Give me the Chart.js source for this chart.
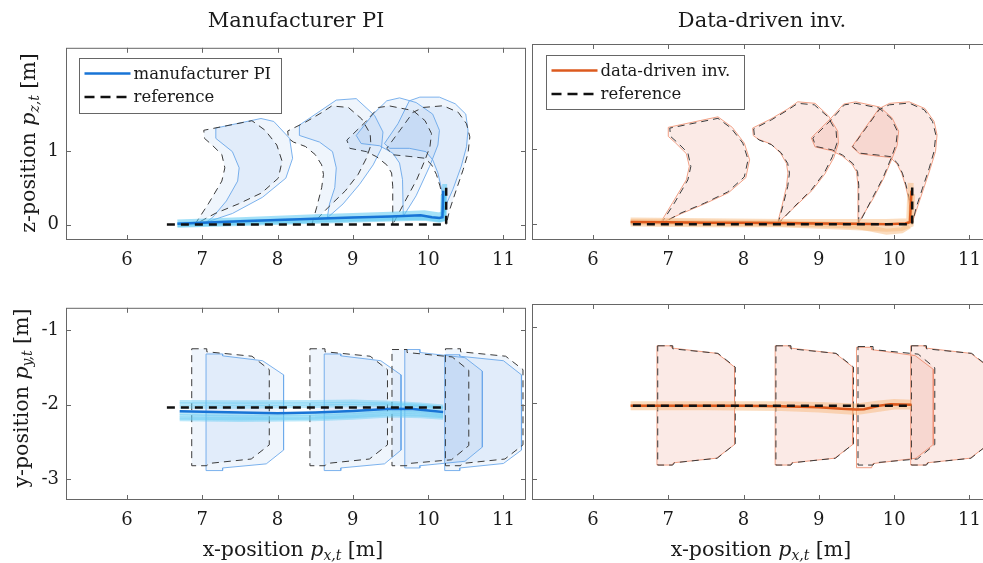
<!DOCTYPE html>
<html>
<head>
<meta charset="utf-8">
<script src="https://cdn.jsdelivr.net/npm/chart.js@4.4.0/dist/chart.umd.min.js"></script>
<style>
  html, body { margin: 0; padding: 0; background: #fff; overflow: hidden; }
  body { width: 983px; height: 563px; position: relative; font-family: 'DejaVu Serif', serif; color: #1a1a1a; }
  canvas { position: absolute; }
  .lbl { position: absolute; transform: translate(-50%, -50%); white-space: nowrap; font-size: 20.5px; }
  .ttl { font-size: 21px; }
  .ylbl { transform: translate(-50%, -50%) rotate(-90deg); }
  sub { font-size: 0.68em; vertical-align: -0.3em; line-height: 0; }
</style>
</head>
<body>
<canvas id="pidXZ" width="530" height="250" style="left:0;top:30px"></canvas>
<canvas id="ddiXZ" width="470" height="250" style="left:528px;top:30px"></canvas>
<canvas id="pidXY" width="530" height="250" style="left:0;top:290px"></canvas>
<canvas id="ddiXY" width="470" height="250" style="left:528px;top:290px"></canvas>

<div class="lbl ttl" style="left:296px;top:20px">Manufacturer PI</div>
<div class="lbl ttl" style="left:762px;top:20px">Data-driven inv.</div>
<div class="lbl" style="left:293px;top:549px">x-position <i>p</i><sub><i>x,t</i></sub> [m]</div>
<div class="lbl" style="left:761px;top:549px">x-position <i>p</i><sub><i>x,t</i></sub> [m]</div>
<div class="lbl ylbl" style="left:28px;top:143px">z-position <i>p</i><sub><i>z,t</i></sub> [m]</div>
<div class="lbl ylbl" style="left:21px;top:398px">y-position <i>p</i><sub><i>y,t</i></sub> [m]</div>

<script>
// axis ticks
const xTicks = [6, 7, 8, 9, 10, 11];
const zTicks = [0, 1];
const yTicks = [-3, -2, -1];

// reference trajectory
const refPathXZ = [[6.53, 0], [10.24, 0], [10.24, 0.5]];
const refPathXY = [[6.53, -2.04], [10.24, -2.04]];

// manufacturer PI: mean flight and single runs
const pidMeanXZ = [[6.67, 0.01], [7.0, 0.025], [7.5, 0.045], [8.0, 0.06], [8.5, 0.08], [9.0, 0.095], [9.5, 0.11], [9.9, 0.125], [10.05, 0.1], [10.15, 0.09], [10.19, 0.1], [10.2, 0.46]];
const pidRunsXZ = [
  [[6.67, 0.035], [7.5, 0.065], [8.5, 0.105], [9.5, 0.14], [9.95, 0.16], [10.15, 0.13], [10.21, 0.15], [10.22, 0.55]],
  [[6.67, 0.0], [7.5, 0.03], [8.5, 0.06], [9.5, 0.09], [9.95, 0.1], [10.15, 0.07], [10.2, 0.08], [10.21, 0.45]],
  [[6.67, -0.01], [7.5, 0.015], [8.5, 0.045], [9.5, 0.075], [9.95, 0.085], [10.15, 0.06], [10.19, 0.07], [10.2, 0.4]]
];
const pidMeanXY = [[6.7, -2.09], [7.5, -2.105], [8.0, -2.115], [8.5, -2.105], [9.0, -2.085], [9.5, -2.055], [9.8, -2.06], [10.0, -2.08], [10.2, -2.1]];
const pidRunsXY = [
  [[6.7, -1.96], [7.5, -1.965], [8.5, -1.96], [9.0, -1.955], [9.5, -1.97], [9.9, -1.995], [10.2, -2.02]],
  [[6.7, -1.99], [7.5, -1.995], [8.5, -1.99], [9.0, -1.985], [9.5, -1.99], [9.9, -2.01], [10.2, -2.04]],
  [[6.7, -2.03], [7.5, -2.03], [8.5, -2.02], [9.0, -2.01], [9.5, -2.01], [9.9, -2.03], [10.2, -2.06]],
  [[6.7, -2.12], [7.5, -2.14], [8.5, -2.13], [9.0, -2.11], [9.5, -2.08], [9.9, -2.09], [10.2, -2.12]],
  [[6.7, -2.15], [7.5, -2.165], [8.5, -2.155], [9.0, -2.135], [9.5, -2.1], [9.9, -2.11], [10.2, -2.14]],
  [[6.7, -2.18], [7.5, -2.19], [8.5, -2.18], [9.0, -2.16], [9.5, -2.13], [9.9, -2.14], [10.2, -2.16]],
  [[6.7, -2.2], [7.5, -2.21], [8.5, -2.2], [9.0, -2.18], [9.5, -2.15], [9.9, -2.16], [10.2, -2.18]]
];

// data-driven inversion: mean flight and single runs
const ddiMeanXZ = [[6.5, 0.03], [7.0, 0.025], [7.5, 0.02], [8.0, 0.02], [8.5, 0.015], [9.0, 0.01], [9.5, 0.005], [9.9, 0.0], [10.15, 0.01], [10.21, 0.03], [10.23, 0.45]];
const ddiRunsXZ = [
  [[6.5, 0.05], [7.5, 0.04], [8.5, 0.03], [9.0, 0.03], [9.5, 0.03], [9.9, 0.03], [10.2, 0.04], [10.22, 0.55]],
  [[6.5, 0.01], [7.5, 0.0], [8.5, 0.0], [9.0, -0.02], [9.5, -0.04], [9.9, -0.06], [10.1, -0.05], [10.22, 0.0], [10.24, 0.4]],
  [[6.5, 0.03], [7.5, 0.02], [8.5, 0.01], [9.0, 0.0], [9.5, -0.02], [9.9, -0.1], [10.1, -0.08], [10.2, -0.02]]
];
const ddiMeanXY = [[6.5, -2.04], [7.0, -2.04], [7.5, -2.04], [8.0, -2.04], [8.5, -2.045], [9.0, -2.06], [9.3, -2.08], [9.5, -2.09], [9.6, -2.085], [9.8, -2.04], [9.95, -2.02], [10.23, -2.025]];
const ddiRunsXY = [
  [[6.5, -2.02], [7.5, -2.02], [8.5, -2.02], [9.0, -2.03], [9.5, -2.05], [9.8, -2.01], [10.0, -1.99], [10.23, -2.0]],
  [[6.5, -2.06], [7.5, -2.06], [8.5, -2.07], [9.0, -2.09], [9.5, -2.12], [9.8, -2.08], [10.0, -2.05], [10.23, -2.05]]
];

// gate outlines, side view (x, z)
const refGatesXZ = [
  [[6.9, 0], [7.08, 0.28], [7.26, 0.59], [7.3, 0.77], [7.26, 0.95], [7.13, 1.08], [7.03, 1.17], [7.02, 1.28], [7.66, 1.41], [7.835, 1.28], [7.99, 1.08], [8.06, 0.86], [8.01, 0.63], [7.79, 0.43], [7.48, 0.28], [7.17, 0.15]],
  [[8.455, 0], [8.52, 0.235], [8.586, 0.5], [8.61, 0.68], [8.586, 0.81], [8.5, 0.95], [8.37, 1.06], [8.21, 1.12], [8.145, 1.17], [8.135, 1.27], [8.37, 1.39], [8.586, 1.52], [8.72, 1.61], [8.94, 1.59], [9.117, 1.435], [9.23, 1.235], [9.24, 1.08], [9.18, 0.9], [9.07, 0.68], [8.9, 0.457], [8.675, 0.235]],
  [[9.53, 0], [9.53, 0.52], [9.515, 0.7], [9.45, 0.81], [9.316, 0.92], [9.18, 0.99], [8.96, 1.035], [8.92, 1.147], [9.165, 1.39], [9.34, 1.59], [9.49, 1.61], [9.8, 1.547], [9.96, 1.41], [10.045, 1.235], [10.024, 1.057], [9.96, 0.88], [9.85, 0.613], [9.71, 0.347]],
  [[10.24, 0], [10.2, 0.347], [10.157, 0.524], [10.11, 0.68], [10.045, 0.813], [9.957, 0.9], [9.76, 0.924], [9.537, 0.947], [9.45, 1.035], [9.626, 1.28], [9.8, 1.524], [9.935, 1.59], [10.2, 1.613], [10.4, 1.524], [10.51, 1.368], [10.554, 1.19], [10.53, 0.968], [10.466, 0.747], [10.377, 0.48], [10.29, 0.213]]
];
const pidGatesXZ = [
  [[7.05, 0.03], [7.14, 0.1], [7.32, 0.32], [7.47, 0.59], [7.49, 0.77], [7.4, 0.99], [7.18, 1.17], [7.18, 1.31], [7.78, 1.44], [7.95, 1.4], [8.16, 1.17], [8.2, 0.9], [8.11, 0.63], [7.8, 0.37], [7.4, 0.15]],
  [[8.66, 0.09], [8.69, 0.28], [8.76, 0.5], [8.78, 0.77], [8.73, 0.99], [8.557, 1.12], [8.29, 1.21], [8.29, 1.35], [8.78, 1.69], [9.045, 1.71], [9.29, 1.48], [9.4, 1.257], [9.38, 1.035], [9.27, 0.81], [9.09, 0.547], [8.87, 0.28]],
  [[9.67, 0.11], [9.66, 0.61], [9.62, 0.835], [9.53, 0.97], [9.355, 1.07], [9.11, 1.1], [9.045, 1.21], [9.27, 1.5], [9.45, 1.68], [9.62, 1.72], [9.84, 1.657], [10.06, 1.5], [10.15, 1.28], [10.13, 1.08], [10.02, 0.79], [9.84, 0.39]],
  [[10.23, 0.25], [10.17, 0.52], [10.13, 0.7], [10.06, 0.88], [9.97, 0.99], [9.75, 1.035], [9.49, 1.035], [9.42, 1.1], [9.6, 1.37], [9.75, 1.68], [9.89, 1.73], [10.15, 1.73], [10.36, 1.64], [10.5, 1.5], [10.53, 1.28], [10.51, 1.057], [10.44, 0.79], [10.33, 0.48]]
];
const ddiGatesXZ = [
  [[6.89, 0.01], [7.06, 0.29], [7.24, 0.59], [7.28, 0.77], [7.24, 0.94], [7.1, 1.08], [7.0, 1.17], [7.0, 1.29], [7.66, 1.43], [7.85, 1.29], [8.01, 1.08], [8.08, 0.86], [8.03, 0.62], [7.8, 0.42], [7.48, 0.27], [7.17, 0.14]],
  [[8.45, 0.01], [8.51, 0.24], [8.57, 0.5], [8.59, 0.68], [8.57, 0.81], [8.49, 0.95], [8.36, 1.07], [8.2, 1.13], [8.13, 1.18], [8.12, 1.28], [8.36, 1.4], [8.58, 1.53], [8.72, 1.63], [8.95, 1.61], [9.13, 1.44], [9.25, 1.24], [9.26, 1.08], [9.2, 0.89], [9.08, 0.67], [8.91, 0.45], [8.68, 0.23]],
  [[9.52, 0.01], [9.52, 0.52], [9.5, 0.7], [9.44, 0.8], [9.31, 0.91], [9.17, 0.98], [8.95, 1.03], [8.9, 1.15], [9.15, 1.4], [9.33, 1.6], [9.49, 1.63], [9.81, 1.56], [9.97, 1.42], [10.06, 1.24], [10.04, 1.05], [9.97, 0.87], [9.86, 0.61], [9.72, 0.34]],
  [[10.24, 0.02], [10.19, 0.35], [10.15, 0.52], [10.1, 0.68], [10.04, 0.8], [9.95, 0.89], [9.76, 0.91], [9.54, 0.94], [9.44, 1.03], [9.62, 1.29], [9.8, 1.54], [9.94, 1.61], [10.2, 1.63], [10.41, 1.54], [10.53, 1.37], [10.57, 1.19], [10.55, 0.97], [10.48, 0.74], [10.39, 0.47], [10.3, 0.2]]
];

// gate outlines, top view (x, y)
const refGatesXY = [
  [[6.86, -1.25], [7.06, -1.25], [7.06, -1.29], [7.66, -1.35], [7.89, -1.53], [7.89, -2.54], [7.65, -2.73], [7.08, -2.79], [7.06, -2.82], [6.86, -2.82]],
  [[8.43, -1.25], [8.63, -1.25], [8.63, -1.29], [9.23, -1.35], [9.46, -1.53], [9.46, -2.54], [9.22, -2.73], [8.65, -2.79], [8.63, -2.82], [8.43, -2.82]],
  [[9.52, -1.26], [9.72, -1.26], [9.72, -1.3], [10.32, -1.36], [10.54, -1.54], [10.54, -2.55], [10.31, -2.74], [9.74, -2.79], [9.72, -2.82], [9.52, -2.82]],
  [[10.23, -1.25], [10.43, -1.25], [10.43, -1.29], [11.03, -1.35], [11.26, -1.53], [11.26, -2.54], [11.02, -2.73], [10.45, -2.79], [10.43, -2.82], [10.23, -2.82]]
];
const pidGatesXY = [
  [[7.05, -1.32], [7.27, -1.32], [7.27, -1.345], [7.8, -1.41], [8.08, -1.6], [8.08, -2.61], [7.85, -2.795], [7.27, -2.85], [7.27, -2.885], [7.05, -2.885]],
  [[8.62, -1.32], [8.84, -1.32], [8.84, -1.345], [9.37, -1.41], [9.64, -1.6], [9.64, -2.61], [9.42, -2.795], [8.84, -2.85], [8.84, -2.885], [8.62, -2.885]],
  [[9.69, -1.26], [9.89, -1.26], [9.89, -1.3], [10.49, -1.37], [10.72, -1.55], [10.72, -2.57], [10.49, -2.76], [9.89, -2.82], [9.89, -2.85], [9.69, -2.85]],
  [[10.22, -1.33], [10.42, -1.33], [10.42, -1.35], [11.0, -1.41], [11.24, -1.6], [11.24, -2.61], [11.0, -2.79], [10.42, -2.85], [10.42, -2.885], [10.22, -2.885]]
];
const ddiGatesXY = [
  [[6.85, -1.25], [7.05, -1.25], [7.05, -1.28], [7.65, -1.35], [7.88, -1.53], [7.88, -2.55], [7.64, -2.73], [7.07, -2.79], [7.05, -2.82], [6.85, -2.82]],
  [[8.42, -1.25], [8.62, -1.25], [8.62, -1.28], [9.22, -1.35], [9.45, -1.53], [9.45, -2.55], [9.21, -2.73], [8.64, -2.79], [8.62, -2.82], [8.42, -2.82]],
  [[9.5, -1.27], [9.7, -1.27], [9.7, -1.3], [10.28, -1.38], [10.52, -1.56], [10.52, -2.55], [10.29, -2.73], [9.72, -2.8], [9.7, -2.855], [9.5, -2.855]],
  [[10.22, -1.25], [10.42, -1.25], [10.42, -1.28], [11.02, -1.35], [11.25, -1.53], [11.25, -2.55], [11.01, -2.73], [10.44, -2.79], [10.42, -2.82], [10.22, -2.82]]
];

const pidStyle = { line: '#1874d6', band: 'rgba(90,200,242,0.55)', bandXY: 'rgba(100,205,245,0.45)', fill: 'rgba(80,145,225,0.09)', edge: 'rgba(110,170,235,0.9)' };
const ddiStyle = { line: '#dc5a1e', band: 'rgba(248,185,125,0.5)', bandXY: 'rgba(248,185,125,0.5)', fill: 'rgba(230,110,75,0.075)', edge: 'rgba(240,150,120,0.9)' };

const toPts = arr => arr.map(([x, y]) => ({ x, y }));
const closed = arr => toPts([...arr, arr[0]]);

function panelSets(mean, runs, ref, gates, refGates, st, runColor, runWidth) {
  return [
    { data: toPts(ref), borderColor: '#111', borderWidth: 2.5, borderDash: [8, 6], fill: false },
    { data: toPts(mean), borderColor: st.line, borderWidth: 2.5, fill: false },
    ...runs.map(r => ({ data: toPts(r), borderColor: runColor, borderWidth: runWidth, fill: false })),
    ...refGates.map(g => ({ data: closed(g), borderColor: '#3a3a3a', borderWidth: 1, borderDash: [7, 5], backgroundColor: st.fill, fill: 'shape' })),
    ...gates.map(g => ({ data: closed(g), borderColor: st.edge, borderWidth: 1, backgroundColor: st.fill, fill: 'shape' }))
  ];
}

// axes box with inward ticks on all four sides
const frame = {
  id: 'frame',
  afterDatasetsDraw(chart) {
    const { ctx, chartArea: a, scales } = chart;
    ctx.save();
    ctx.strokeStyle = '#666';
    ctx.lineWidth = 1;
    ctx.strokeRect(a.left + 0.5, a.top + 0.5, a.right - a.left - 1, a.bottom - a.top - 1);
    ctx.beginPath();
    scales.x.ticks.forEach(t => {
      const p = Math.round(scales.x.getPixelForValue(t.value)) + 0.5;
      ctx.moveTo(p, a.bottom); ctx.lineTo(p, a.bottom - 5);
      ctx.moveTo(p, a.top); ctx.lineTo(p, a.top + 5);
    });
    scales.y.ticks.forEach(t => {
      const p = Math.round(scales.y.getPixelForValue(t.value)) + 0.5;
      ctx.moveTo(a.left, p); ctx.lineTo(a.left + 5, p);
      ctx.moveTo(a.right, p); ctx.lineTo(a.right - 5, p);
    });
    ctx.stroke();
    ctx.restore();
  }
};

function boxLegend(items, box) {
  return {
    id: 'boxLegend',
    afterDraw(chart) {
      const { ctx, chartArea } = chart;
      const x0 = Math.round(chartArea.left + box.dx) + 0.5, y0 = Math.round(chartArea.top + box.dy) + 0.5;
      ctx.save();
      ctx.fillStyle = '#fff';
      ctx.fillRect(x0, y0, box.w, box.h);
      ctx.strokeStyle = '#666';
      ctx.lineWidth = 1;
      ctx.strokeRect(x0, y0, box.w, box.h);
      items.forEach((it, i) => {
        const y = y0 + 15 + i * 23.5;
        ctx.beginPath();
        ctx.setLineDash(it.dash || []);
        ctx.strokeStyle = it.color;
        ctx.lineWidth = 2.5;
        ctx.moveTo(x0 + 5, y);
        ctx.lineTo(x0 + 51, y);
        ctx.stroke();
        ctx.setLineDash([]);
        ctx.fillStyle = '#1a1a1a';
        ctx.font = '16.5px "DejaVu Serif"';
        ctx.textBaseline = 'middle';
        ctx.fillText(it.text, x0 + 54, y + 1);
      });
      ctx.restore();
    }
  };
}

const tickFont = { family: 'DejaVu Serif', size: 18 };

function makeChart(id, datasets, yRange, yVals, left, xPad, legendItems) {
  const plugins = [frame];
  if (legendItems) plugins.push(boxLegend(legendItems, left ? { dx: 13, dy: 10, w: 202, h: 55 } : { dx: 13.5, dy: 10.5, w: 198, h: 54 }));
  return new Chart(document.getElementById(id), {
    type: 'line',
    data: { datasets },
    options: {
      responsive: false,
      animation: false,
      events: [],
      layout: { padding: { top: 14, right: left ? 4 : 6, left: 0, bottom: 0 } },
      plugins: { legend: { display: false }, tooltip: { enabled: false } },
      elements: { point: { radius: 0 }, line: { tension: 0 } },
      scales: {
        x: {
          type: 'linear', min: 5.19, max: 11.3,
          grid: { display: false, drawTicks: false }, border: { display: false },
          afterBuildTicks: s => { s.ticks = xTicks.map(v => ({ value: v })); },
          afterFit: s => { s.height = 40; },
          ticks: { font: tickFont, color: '#1a1a1a', padding: xPad, maxRotation: 0, autoSkip: false }
        },
        y: {
          type: 'linear', min: yRange[0], max: yRange[1],
          grid: { display: false, drawTicks: false }, border: { display: false },
          afterBuildTicks: s => { s.ticks = yVals.map(v => ({ value: v })); },
          afterFit: s => { s.width = left ? 66 : 4; },
          ticks: { display: left, font: tickFont, color: '#1a1a1a', padding: 7, autoSkip: false }
        }
      }
    },
    plugins
  });
}

const zRange = [-0.21, 2.4];
const yRange = [-3.28, -0.7];

makeChart('pidXZ', panelSets(pidMeanXZ, pidRunsXZ, refPathXZ, pidGatesXZ, refGatesXZ, pidStyle, pidStyle.band, 5), zRange, zTicks, true, 10,
  [{ text: 'manufacturer PI', color: pidStyle.line }, { text: 'reference', color: '#111', dash: [10, 6] }]);
makeChart('ddiXZ', panelSets(ddiMeanXZ, ddiRunsXZ, refPathXZ, ddiGatesXZ, refGatesXZ, ddiStyle, ddiStyle.band, 6), zRange, zTicks, false, 10,
  [{ text: 'data-driven inv.', color: ddiStyle.line }, { text: 'reference', color: '#111', dash: [10, 6] }]);
makeChart('pidXY', panelSets(pidMeanXY, pidRunsXY, refPathXY, pidGatesXY, refGatesXY, pidStyle, pidStyle.bandXY, 3.5), yRange, yTicks, true, 10, null);
makeChart('ddiXY', panelSets(ddiMeanXY, ddiRunsXY, refPathXY, ddiGatesXY, refGatesXY, ddiStyle, ddiStyle.bandXY, 6), yRange, yTicks, false, 10, null);
</script>
</body>
</html>
